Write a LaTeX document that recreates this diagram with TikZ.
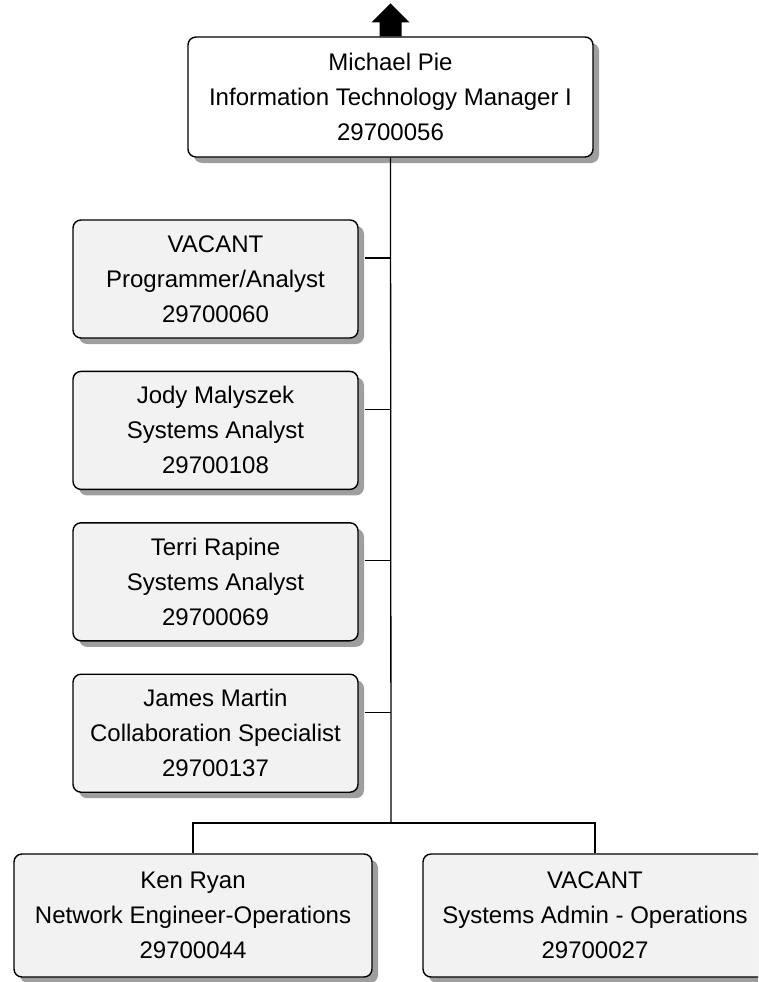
\documentclass[tikz,border=0pt]{standalone}
\usepackage{fontspec}
\setmainfont{Liberation Sans}
\usetikzlibrary{positioning,shadows}

\begin{document}
\begin{tikzpicture}[
    x=1pt, y=-1pt,
    box/.style={draw, line width=1.4pt, rounded corners=8pt, align=center,
      font=\fontsize{24}{35}\selectfont, inner sep=0pt,
      drop shadow={shadow xshift=6pt, shadow yshift=-6pt, fill=black!38, opacity=1}},
    boss/.style={box, fill=white, minimum width=405pt, minimum height=120pt},
    staff/.style={box, fill=black!5, minimum width=285pt, minimum height=118pt},
    field/.style={box, fill=black!5, minimum height=123pt},
    conn/.style={draw, line width=1.3pt}
  ]
  \useasboundingbox (0,0) rectangle (758,982);
  \clip (0,0) rectangle (758,982);

  \node[boss] (mgr) at (390.5,97) {Michael Pie\\Information Technology Manager I\\29700056};
  % up arrow
  \fill (mgr.north) ++(-11,0) -- ++(0,-14) -- ++(-8,0) -- ++(19,-19)
    -- ++(19,19) -- ++(-8,0) -- ++(0,14) -- cycle;

  \node[staff] (pa) at (215.5,279) {VACANT\\Programmer/Analyst\\29700060};
  \node[staff, below=32pt of pa] (ja) {Jody Malyszek\\Systems Analyst\\29700108};
  \node[staff, below=32pt of ja] (ta) {Terri Rapine\\Systems Analyst\\29700069};
  \node[staff, below=32pt of ta] (sp) {James Martin\\Collaboration Specialist\\29700137};

  \node[field, minimum width=358pt] (ne) at (193,915.5) {Ken Ryan\\Network Engineer-Operations\\29700044};
  \node[field, minimum width=344pt] (sa) at (595,915.5) {VACANT\\Systems Admin - Operations\\29700027};

  \coordinate (fork) at (391,823);
  \draw[conn] (mgr.south) -- (fork);
  \foreach \n in {pa,ja,ta,sp}
    \draw[conn] ([xshift=6pt,yshift=21pt]\n.east) -- ([yshift=21pt]\n.east -| fork);
  \draw[conn] (ne.north) |- (fork) -| (sa.north);
\end{tikzpicture}
\end{document}
